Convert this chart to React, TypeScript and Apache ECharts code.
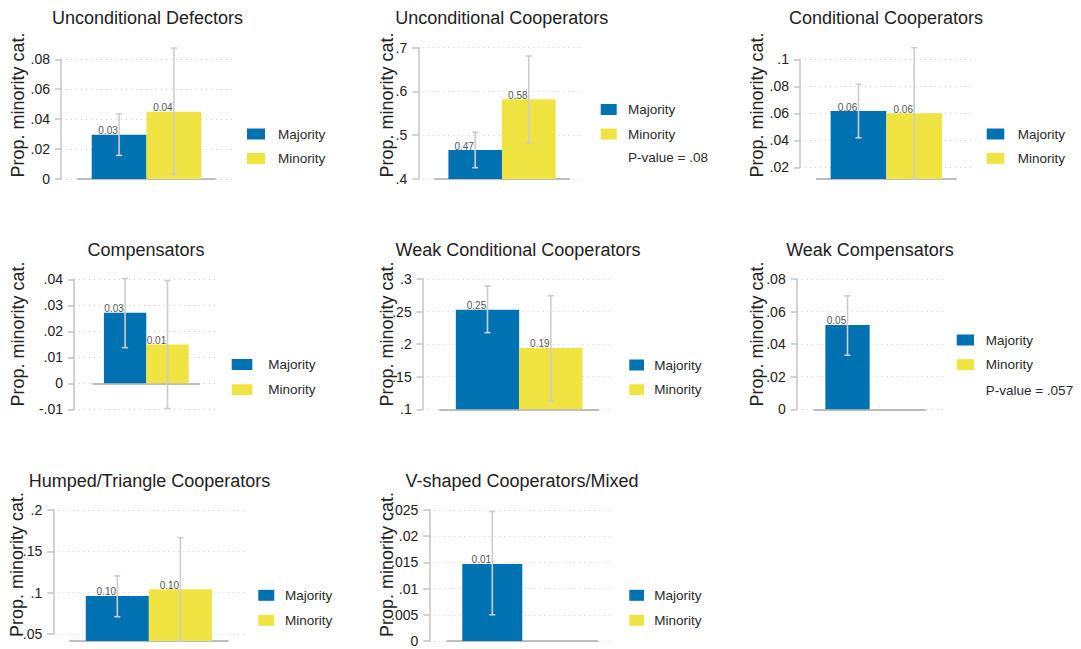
import React, { useEffect, useRef } from 'react';
import * as echarts from 'echarts';

// ---------- data ----------
const panelTitles = [
  'Unconditional Defectors',
  'Unconditional Cooperators',
  'Conditional Cooperators',
  'Compensators',
  'Weak Conditional Cooperators',
  'Weak Compensators',
  'Humped/Triangle Cooperators',
  'V-shaped Cooperators/Mixed',
];
const groupNames = ['Majority', 'Minority'];
const majorityValues = [0.0295, 0.466, 0.0617, 0.0271, 0.2529, 0.0518, 0.096, 0.0147];
const minorityValues: (number | null)[] = [0.0449, 0.582, 0.06, 0.0149, 0.1941, null, 0.1041, null];
const majorityLow = [0.0158, 0.4258, 0.0419, 0.0137, 0.2176, 0.0332, 0.0709, 0.005];
const majorityHigh = [0.0435, 0.5066, 0.0815, 0.0403, 0.2893, 0.0697, 0.1202, 0.0247];
const minorityLow: (number | null)[] = [0.0031, 0.4815, 0.0113, -0.0097, 0.1127, null, 0.0415, null];
const minorityHigh: (number | null)[] = [0.0875, 0.681, 0.1086, 0.0395, 0.2744, null, 0.1666, null];
const tickMin = [0, 0.4, 0.02, -0.01, 0.1, 0, 0.05, 0];
const tickMax = [0.08, 0.7, 0.1, 0.04, 0.3, 0.08, 0.2, 0.025];
const tickStep = [0.02, 0.1, 0.02, 0.01, 0.05, 0.02, 0.05, 0.005];
const pValueNotes: (string | null)[] = [null, 'P-value = .08', null, null, null, 'P-value = .057', null, null];
const yAxisTitle = 'Prop. minority cat.';

// ---------- layout (pixels) ----------
const layout = [
  { axisX: 61, gridR: 232, top: 59.3, tickBot: 179, base: 179, baseL: 78, baseR: 215, titleX: 147.5, titleY: 18, yTitleX: 17.5, yTitleY: 105, legX: 247, legW: 18, legTextX: 278, legY: 134, legGap: 24.5, pY: 0 },
  { axisX: 418.3, gridR: 581.7, top: 47.7, tickBot: 179, base: 179, baseL: 435, baseR: 569, titleX: 501.7, titleY: 17.5, yTitleX: 387, yTitleY: 105, legX: 600.7, legW: 16, legTextX: 628, legY: 109.5, legGap: 24.5, pY: 157 },
  { axisX: 800, gridR: 971.7, top: 59.3, tickBot: 167.3, base: 179, baseL: 816.7, baseR: 956, titleX: 886, titleY: 17.5, yTitleX: 756.7, yTitleY: 105, legX: 986.7, legW: 17.6, legTextX: 1017.7, legY: 134, legGap: 24.3, pY: 0 },
  { axisX: 74, gridR: 216.7, top: 279.3, tickBot: 409.3, base: 409.3, baseL: 93.3, baseR: 199.3, titleX: 146, titleY: 250, yTitleX: 17.5, yTitleY: 334, legX: 231.7, legW: 20.6, legTextX: 268.3, legY: 364.5, legGap: 25.2, pY: 0 },
  { axisX: 422.7, gridR: 611.7, top: 279, tickBot: 409.3, base: 409.3, baseL: 440, baseR: 598.3, titleX: 518, titleY: 250, yTitleX: 387, yTitleY: 334, legX: 629.3, legW: 14.7, legTextX: 654.3, legY: 365, legGap: 24.7, pY: 0 },
  { axisX: 796.7, gridR: 943.3, top: 279, tickBot: 409.3, base: 409.3, baseL: 814.3, baseR: 925, titleX: 870, titleY: 250, yTitleX: 756.7, yTitleY: 334, legX: 956.7, legW: 17.3, legTextX: 985.7, legY: 340, legGap: 24.7, pY: 390.7 },
  { axisX: 53.3, gridR: 245, top: 510, tickBot: 634, base: 641, baseL: 70, baseR: 227.7, titleX: 149.5, titleY: 481, yTitleX: 16.5, yTitleY: 564.5, legX: 258.3, legW: 16, legTextX: 285, legY: 595.3, legGap: 25, pY: 0 },
  { axisX: 429.3, gridR: 613.3, top: 510, tickBot: 641, base: 641, baseL: 447.3, baseR: 597.3, titleX: 522, titleY: 481, yTitleX: 387, yTitleY: 564.5, legX: 629.3, legW: 14.7, legTextX: 654.3, legY: 595.3, legGap: 25, pY: 0 },
];

const W = 1081;
const H = 649;
const FONT = '"Liberation Sans", Arial, Helvetica, sans-serif';
const BLUE = '#0072B2';
const YELLOW = '#F0E442';
const AXIS_GRAY = '#c4c4c4';
const CI_GRAY = '#cdcdcd';

const fmtTick = (v: number) => {
  const s = String(+v.toFixed(4));
  return s.replace(/^(-?)0\./, '$1.');
};

function buildOption() {
  const grid: any[] = [];
  const xAxis: any[] = [];
  const yAxis: any[] = [];
  const series: any[] = [];
  const legend: any[] = [];
  const graphic: any[] = [];

  panelTitles.forEach((title, i) => {
    const L = layout[i];
    const ag = grid.length;
    // axis grid: spans the tick range
    grid.push({
      left: L.axisX, top: L.top, width: L.gridR - L.axisX, height: L.tickBot - L.top,
      containLabel: false, outerBoundsMode: 'none',
    });
    xAxis.push({ type: 'value', gridIndex: ag, show: false, min: 0, max: 1 });
    yAxis.push({
      type: 'value', gridIndex: ag,
      min: tickMin[i], max: tickMax[i], interval: tickStep[i],
      axisLine: { show: true, lineStyle: { color: AXIS_GRAY, width: 1.5 } },
      axisTick: { show: true, length: 6, lineStyle: { color: AXIS_GRAY, width: 1.5 } },
      axisLabel: { show: true, margin: 11, fontSize: 14, color: '#222', fontFamily: FONT, formatter: fmtTick },
      splitLine: { show: true, lineStyle: { color: '#cfcfcf', width: 1, type: [1, 4] } },
    });
    // data grid: spans down to the baseline
    const dg = grid.length;
    grid.push({
      left: L.baseL, top: L.top, width: L.baseR - L.baseL, height: L.base - L.top,
      containLabel: false, outerBoundsMode: 'none',
    });
    const span = tickMax[i] - tickMin[i];
    const baseVal = tickMin[i] - ((L.base - L.tickBot) * span) / (L.tickBot - L.top);
    xAxis.push({
      type: 'category', gridIndex: dg, data: ['g'],
      axisLine: { show: true, lineStyle: { color: '#bdbdbd', width: 2 } },
      axisTick: { show: false }, axisLabel: { show: false }, splitLine: { show: false },
    });
    yAxis.push({ type: 'value', gridIndex: dg, show: false, min: baseVal, max: tickMax[i], splitLine: { show: false } });

    const barLabel = {
      show: true, position: 'top', distance: 0, offset: [-11, 1],
      fontSize: 10, color: '#555', fontFamily: FONT,
      formatter: (p: any) => (+p.value).toFixed(2),
    };
    series.push({
      type: 'bar', name: groupNames[0], xAxisIndex: dg, yAxisIndex: dg,
      data: [majorityValues[i]], barGap: '0%', barCategoryGap: '20%', clip: true,
      itemStyle: { color: BLUE }, label: barLabel,
    });
    series.push({
      type: 'bar', name: groupNames[1], xAxisIndex: dg, yAxisIndex: dg,
      data: [minorityValues[i] == null ? '-' : minorityValues[i]], barGap: '0%', barCategoryGap: '20%', clip: true,
      itemStyle: { color: YELLOW }, label: barLabel,
    });
    const ciData: any[] = [[0, majorityLow[i], majorityHigh[i], -1]];
    if (minorityLow[i] != null && minorityHigh[i] != null) ciData.push([0, minorityLow[i], minorityHigh[i], 1]);
    series.push({
      type: 'custom', name: 'CI', xAxisIndex: dg, yAxisIndex: dg, z: 5, clip: false,
      encode: { x: 0, y: [1, 2] },
      data: ciData,
      renderItem: (params: any, api: any) => {
        const low = api.value(1);
        const high = api.value(2);
        const side = api.value(3);
        const band = api.size([1, 0])[0];
        const pTop = api.coord([0, high]);
        const pBot = api.coord([0, low]);
        const x = pTop[0] + (side * band * 0.8) / 4;
        const st = { stroke: CI_GRAY, lineWidth: 1.6 };
        return {
          type: 'group',
          children: [
            { type: 'line', shape: { x1: x, y1: pTop[1], x2: x, y2: pBot[1] }, style: st },
            { type: 'line', shape: { x1: x - 3, y1: pTop[1], x2: x + 3, y2: pTop[1] }, style: st },
            { type: 'line', shape: { x1: x - 3, y1: pBot[1], x2: x + 3, y2: pBot[1] }, style: st },
          ],
        };
      },
    });

    legend.push({
      show: true, orient: 'vertical', left: L.legX, top: L.legY - 8, padding: 0,
      itemWidth: L.legW, itemHeight: 11, itemGap: L.legGap - 16, icon: 'rect',
      selectedMode: false, data: groupNames,
      textStyle: {
        fontSize: 13.5, color: '#2b2b2b', fontFamily: FONT, lineHeight: 16,
        padding: [0, 0, 0, Math.max(0, L.legTextX - L.legX - L.legW - 5)],
      },
    });

    graphic.push({
      type: 'text', x: L.titleX, y: L.titleY,
      style: { text: title, fontSize: 18, fontFamily: FONT, fill: '#222', align: 'center', verticalAlign: 'middle' },
    });
    graphic.push({
      type: 'text', x: L.yTitleX, y: L.yTitleY, rotation: Math.PI / 2,
      style: { text: yAxisTitle, fontSize: 18, fontFamily: FONT, fill: '#222', align: 'center', verticalAlign: 'middle' },
    });
    if (pValueNotes[i]) {
      graphic.push({
        type: 'text', x: L.legTextX, y: L.pY,
        style: { text: pValueNotes[i], fontSize: 13.5, fontFamily: FONT, fill: '#2b2b2b', align: 'left', verticalAlign: 'middle' },
      });
    }
  });

  return {
    animation: false,
    backgroundColor: '#ffffff',
    grid, xAxis, yAxis, series, legend, graphic,
  };
}

export default function App() {
  const ref = useRef<HTMLDivElement>(null);
  useEffect(() => {
    if (!ref.current) return;
    const chart = echarts.init(ref.current, null, { renderer: 'svg', width: W, height: H });
    chart.setOption(buildOption() as any);
    return () => chart.dispose();
  }, []);
  return (
    <div
      ref={ref}
      style={{ position: 'fixed', left: 0, top: 0, width: W, height: H, background: '#fff' }}
    />
  );
}
